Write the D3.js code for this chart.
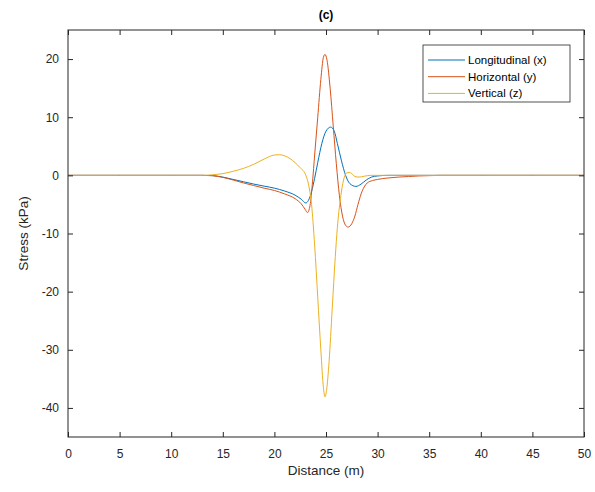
<!DOCTYPE html>
<html><head><meta charset="utf-8">
<script src="https://cdn.jsdelivr.net/npm/d3@7"></script>
<style>body{margin:0;background:#fff;}svg{display:block;font-family:"Liberation Sans",Arial,sans-serif;}</style>
</head><body><svg id="c" width="595" height="492"></svg>
<script>
const xTicks = [0,5,10,15,20,25,30,35,40,45,50];
const yTicks = [-40,-30,-20,-10,0,10,20];
const seriesNames = ["Longitudinal (x)","Horizontal (y)","Vertical (z)"];
const seriesColors = ["#0072BD","#D95319","#EDB120"];

const longX = [0,5,10,13,14,15,16,17,18,19,20,21,22,22.6,23.05,23.3,23.6,23.9,24.2,24.6,25.0,25.45,25.8,26.1,26.5,26.9,27.3,27.9,28.4,28.9,29.4,30,31,35,40,45,50];
const longY = [0,0,0,0,-0.05,-0.3,-0.7,-1.1,-1.5,-1.85,-2.2,-2.7,-3.4,-4.1,-4.75,-4.3,-2.8,-0.5,2.2,5.5,7.6,8.3,7.6,5.5,2.5,0,-1.4,-1.9,-1.5,-0.8,-0.3,-0.1,0,0,0,0,0];

const horX = [0,5,10,13,14,15,16,17,18,19,20,21,22,22.6,23.0,23.2,23.45,23.7,23.9,24.2,24.5,24.75,24.9,25.1,25.4,25.7,26.0,26.3,26.6,26.9,27.15,27.5,27.8,28.1,28.4,28.7,29.0,29.5,30,31,32,33,34,35,36,40,45,50];
const horY = [0,0,0,0,-0.05,-0.35,-0.8,-1.3,-1.75,-2.2,-2.6,-3.2,-4.0,-4.9,-5.9,-6.4,-5.2,-1,3.5,10,16.5,20.3,20.8,19.8,15,8.5,2,-3.5,-7,-8.6,-8.9,-8.3,-7.0,-5.0,-3.2,-2.0,-1.3,-0.9,-0.7,-0.45,-0.3,-0.2,-0.1,-0.05,0,0,0,0];

const verX = [0,5,10,13,14,15,16,17,18,19,20,20.5,21,21.5,22,22.5,23.0,23.3,23.6,23.9,24.2,24.5,24.75,24.9,25.05,25.3,25.6,25.9,26.1,26.4,26.7,27.0,27.25,27.5,27.8,28.2,28.7,29.3,30,35,40,45,50];
const verY = [0,0,0,0,0.1,0.3,0.7,1.2,1.9,2.8,3.5,3.55,3.35,2.9,2.2,1.3,0.2,-1.5,-5,-12,-21,-30,-36.5,-38.1,-37,-32,-23,-14,-9,-4,-0.8,0.4,0.5,0.3,-0.2,-0.3,-0.15,0,0,0,0,0,0];

const seriesX = [longX, horX, verX];
const seriesY = [longY, horY, verY];

const svg = d3.select("#c");
const L = 68, R = 584, T = 30, B = 437;
const x = d3.scaleLinear().domain([0,50]).range([L,R]);
const y = d3.scaleLinear().domain([-45,25]).range([B,T]);
const txtCol = "#262626";

// lines
const line = d3.line().x(d=>x(d[0])).y(d=>y(d[1])).curve(d3.curveMonotoneX);
seriesX.forEach((xs,i)=>{
  const pts = xs.map((v,j)=>[v, seriesY[i][j]]);
  svg.append("path").attr("d", line(pts)).attr("fill","none")
    .attr("stroke", seriesColors[i]).attr("stroke-width",1);
});

// axes
const fmt = d => String(d);
const ax = g => g.selectAll("text").attr("fill",txtCol).style("font-size","12px").style("font-family","'Liberation Sans',Arial,sans-serif");
svg.append("g").attr("transform",`translate(0,${B})`)
  .call(d3.axisBottom(x).tickValues(xTicks).tickSize(-5).tickPadding(12).tickFormat(fmt))
  .call(g=>{g.select(".domain").remove(); ax(g); g.selectAll("line").attr("stroke",txtCol);});
svg.append("g").attr("transform",`translate(0,${T})`)
  .call(d3.axisTop(x).tickValues(xTicks).tickSize(-5).tickFormat(""))
  .call(g=>{g.select(".domain").remove(); g.selectAll("line").attr("stroke",txtCol);});
svg.append("g").attr("transform",`translate(${L},0)`)
  .call(d3.axisLeft(y).tickValues(yTicks).tickSize(-5).tickPadding(9).tickFormat(fmt))
  .call(g=>{g.select(".domain").remove(); ax(g); g.selectAll("line").attr("stroke",txtCol);});
svg.append("g").attr("transform",`translate(${R},0)`)
  .call(d3.axisRight(y).tickValues(yTicks).tickSize(-5).tickFormat(""))
  .call(g=>{g.select(".domain").remove(); g.selectAll("line").attr("stroke",txtCol);});
svg.append("rect").attr("x",L).attr("y",T).attr("width",R-L).attr("height",B-T)
  .attr("fill","none").attr("stroke",txtCol).attr("stroke-width",1);

// labels
svg.append("text").attr("x",(L+R)/2).attr("y",475).attr("text-anchor","middle")
  .attr("fill",txtCol).style("font-size","13.5px").text("Distance (m)");
svg.append("text").attr("transform",`translate(28,${(T+B)/2}) rotate(-90)`).attr("text-anchor","middle")
  .attr("fill",txtCol).style("font-size","13.5px").text("Stress (kPa)");
svg.append("text").attr("x",(L+R)/2).attr("y",19).attr("text-anchor","middle")
  .attr("fill","#000").style("font-size","12px").style("font-weight","bold").text("(c)");

// legend
const lg = svg.append("g");
lg.append("rect").attr("x",423).attr("y",45).attr("width",147).attr("height",57)
  .attr("fill","#fff").attr("stroke",txtCol).attr("stroke-width",0.8);
seriesNames.forEach((n,i)=>{
  const yy = 60 + i*16.7;
  lg.append("line").attr("x1",428).attr("x2",465).attr("y1",yy).attr("y2",yy)
    .attr("stroke",seriesColors[i]).attr("stroke-width",1);
  lg.append("text").attr("x",468).attr("y",yy+4).attr("fill","#000")
    .style("font-size","11.5px").text(n);
});
</script></body></html>
